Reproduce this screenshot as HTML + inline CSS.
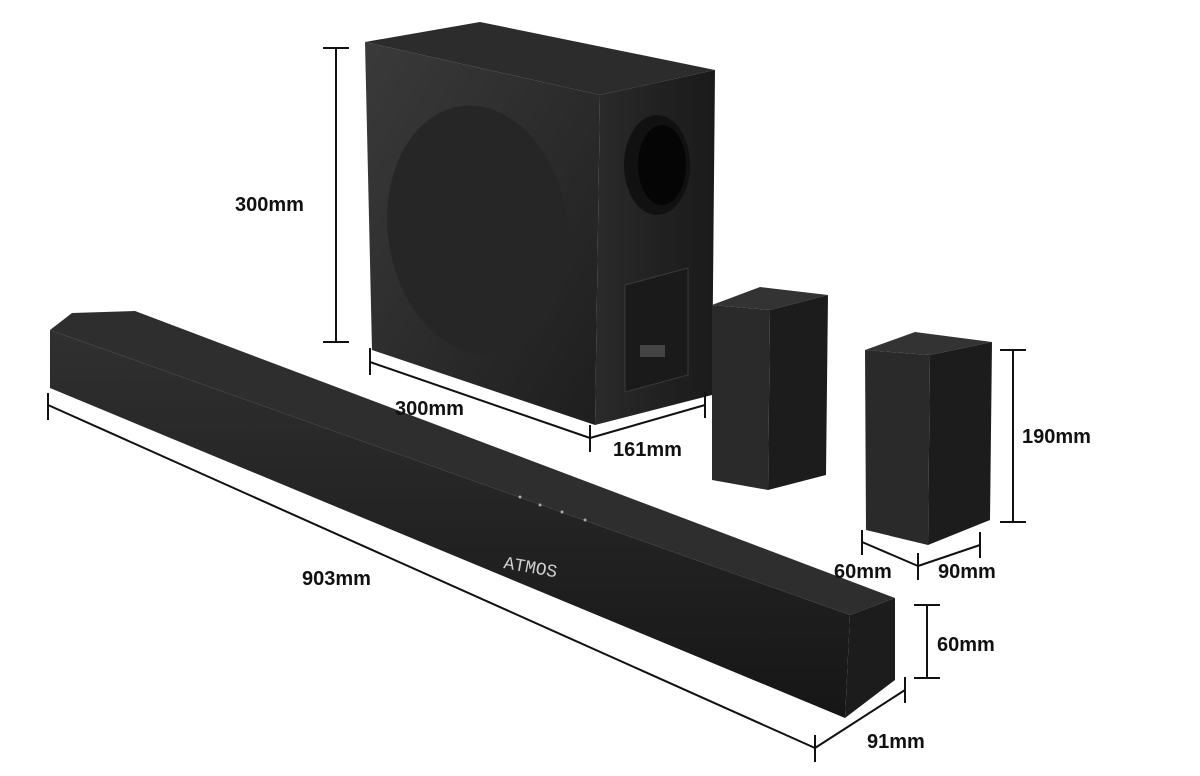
<!DOCTYPE html>
<html><head><meta charset="utf-8"><style>
html,body{margin:0;padding:0;background:#fff;width:1200px;height:776px;overflow:hidden}
svg{display:block}
text{font-family:"Liberation Sans",sans-serif;font-weight:bold;font-size:20px;fill:#111}
</style></head><body>
<svg width="1200" height="776" viewBox="0 0 1200 776">
<defs>
<linearGradient id="front" x1="0" y1="0" x2="1" y2="1"><stop offset="0" stop-color="#3a3a3a"/><stop offset="1" stop-color="#1e1e1e"/></linearGradient>
<linearGradient id="side" x1="0" y1="0" x2="1" y2="0"><stop offset="0" stop-color="#2a2a2a"/><stop offset="1" stop-color="#1a1a1a"/></linearGradient>
<linearGradient id="bar" x1="0" y1="0" x2="0" y2="1"><stop offset="0" stop-color="#303030"/><stop offset="1" stop-color="#161616"/></linearGradient>
</defs>
<!-- subwoofer -->
<polygon points="365,42 480,22 715,70 600,95" fill="#2c2c2c"/>
<polygon points="600,95 715,70 712,395 595,425" fill="url(#side)"/>
<polygon points="365,42 600,95 595,425 372,350" fill="url(#front)"/>
<ellipse cx="478" cy="230" rx="90" ry="125" transform="rotate(-8 478 230)" fill="#262626"/>
<ellipse cx="657" cy="165" rx="33" ry="50" fill="#111"/>
<ellipse cx="662" cy="165" rx="24" ry="40" fill="#050505"/>
<polygon points="625,285 688,268 688,375 625,392" fill="#1a1a1a" stroke="#3a3a3a"/>
<rect x="640" y="345" width="25" height="12" fill="#444"/>
<!-- soundbar -->
<polygon points="50,330 72,313 135,311 895,598 850,615" fill="#2e2e2e"/>
<polygon points="850,615 895,598 895,680 845,718" fill="#1c1c1c"/>
<polygon points="50,330 850,615 845,718 50,388" fill="url(#bar)"/>
<text x="503" y="568" transform="rotate(10 503 568)" style="font-family:'Liberation Mono',monospace;font-weight:normal;font-size:18px;fill:#cfcfcf">ATMOS</text>
<g fill="#aaa"><circle cx="520" cy="497" r="1.5"/><circle cx="540" cy="505" r="1.5"/><circle cx="562" cy="512" r="1.5"/><circle cx="585" cy="520" r="1.5"/></g>
<!-- speaker 1 -->
<polygon points="712,305 760,287 828,295 770,310" fill="#333"/>
<polygon points="770,310 828,295 826,475 768,490" fill="#1c1c1c"/>
<polygon points="712,305 770,310 768,490 712,480" fill="#2a2a2a"/>
<!-- speaker 2 -->
<polygon points="865,350 915,332 992,342 930,355" fill="#333"/>
<polygon points="930,355 992,342 990,520 928,545" fill="#1c1c1c"/>
<polygon points="865,350 930,355 928,545 866,530" fill="#2a2a2a"/>
<!-- dimension lines -->
<g stroke="#111" stroke-width="2" fill="none">
<line x1="336" y1="48" x2="336" y2="342"/><line x1="323" y1="48" x2="349" y2="48"/><line x1="323" y1="342" x2="349" y2="342"/>
<line x1="370" y1="362" x2="590" y2="438"/><line x1="370" y1="348" x2="370" y2="375"/>
<line x1="590" y1="438" x2="705" y2="405"/><line x1="590" y1="425" x2="590" y2="452"/><line x1="705" y1="392" x2="705" y2="418"/>
<line x1="1013" y1="350" x2="1013" y2="522"/><line x1="1000" y1="350" x2="1026" y2="350"/><line x1="1000" y1="522" x2="1026" y2="522"/>
<line x1="862" y1="542" x2="918" y2="566"/><line x1="918" y1="566" x2="980" y2="545"/><line x1="862" y1="530" x2="862" y2="555"/><line x1="918" y1="553" x2="918" y2="580"/><line x1="980" y1="532" x2="980" y2="558"/>
<line x1="48" y1="405" x2="815" y2="748"/><line x1="48" y1="393" x2="48" y2="420"/><line x1="815" y1="735" x2="815" y2="762"/>
<line x1="815" y1="748" x2="905" y2="690"/><line x1="905" y1="677" x2="905" y2="703"/>
<line x1="927" y1="605" x2="927" y2="678"/><line x1="914" y1="605" x2="940" y2="605"/><line x1="914" y1="678" x2="940" y2="678"/>
</g>
<text x="235" y="211">300mm</text>
<text x="395" y="415">300mm</text>
<text x="613" y="456">161mm</text>
<text x="1022" y="443">190mm</text>
<text x="834" y="578">60mm</text>
<text x="938" y="578">90mm</text>
<text x="302" y="585">903mm</text>
<text x="937" y="651">60mm</text>
<text x="867" y="748">91mm</text>
</svg>
</body></html>
